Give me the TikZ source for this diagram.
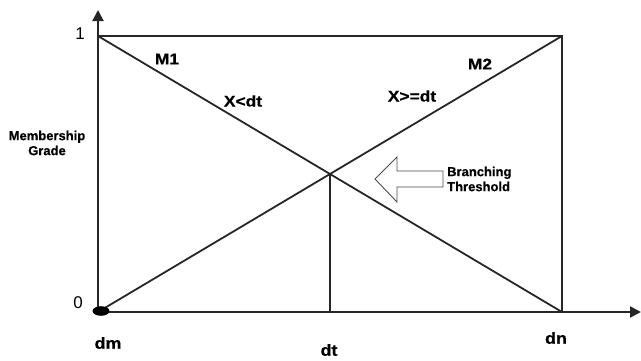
\documentclass[tikz,border=0pt]{standalone}
\usepackage{fontspec}
\setmainfont{Liberation Sans}
\newfontfamily\labfont[FakeStretch=1.12,FakeBold=0.6]{Liberation Sans Bold}
\newfontfamily\smallfont[FakeBold=0.4]{Liberation Sans Bold}
\usetikzlibrary{arrows.meta,intersections}
\begin{document}
\begin{tikzpicture}[x=1pt,y=-1pt,
  line/.style={line width=1.8pt,black!85},
  axis/.style={line width=2pt,black!85,-{Triangle[length=11pt,width=11pt]}},
  big/.style={font=\labfont\fontsize{15.5}{17}\selectfont,inner sep=0pt},
  tick/.style={font=\labfont\fontsize{16}{18}\selectfont,inner sep=0pt},
  num/.style={font=\fontsize{17}{19}\selectfont,inner sep=0pt},
  small/.style={font=\smallfont\fontsize{13}{15}\selectfont,inner sep=0pt,align=center},
  hollow/.style={draw=black!70,line width=0.9pt,fill=white}]
\useasboundingbox (0,0) rectangle (641,360);

% corners of the membership box
\coordinate (o)  at (98,312);
\coordinate (tl) at (98,36);
\coordinate (tr) at (562,36);
\coordinate (br) at (562,312);
\coordinate (xend) at (641,312);
\coordinate (yend) at (98,10);

% axes
\draw[axis] (o) -- (xend);
\draw[axis] (o) -- (yend);

% box and membership lines
\draw[line] (tl) -- (tr) -- (br);
\draw[line,name path=mone] (tl) -- (br);
\draw[line,name path=mtwo] (o) -- (tr);
\path[name intersections={of=mone and mtwo,by=cross}];
\coordinate (dtfoot) at (cross |- o);
\draw[line] (cross) -- (dtfoot);

% origin marker
\fill[black] (101,311) ellipse [x radius=8.5pt,y radius=4.8pt];

% branching threshold arrow
\draw[hollow] (375,179) -- (397,157) -- (397,171) -- (443,171)
  -- (443,187) -- (397,187) -- (397,202) -- cycle;

% labels
\node[num] (one)  at (80,34)  {1};
\node[num] (zero) at (78,303) {0};
\node[tick] (dm) at (108,343) {dm};
\node[tick] (dt) at (329,350) {dt};
\node[tick] (dn) at (556,338) {dn};
\node[big] (m1) at (167,59) {M1};
\node[big] (xl) at (243,101) {X<dt};
\node[big] (m2) at (480,64) {M2};
\node[big] (xg) at (412,96) {X>=dt};
\node[small] (mg) at (47,143) {Membership\\Grade};
\node[small,anchor=west,align=left] (bt) at (447,179) {Branching\\Threshold};
\end{tikzpicture}
\end{document}
